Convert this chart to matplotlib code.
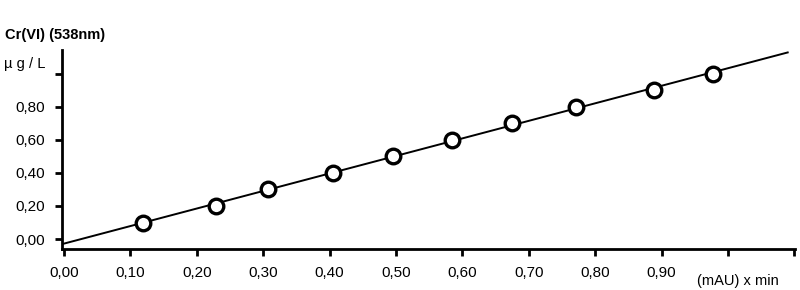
import numpy as np
import matplotlib
matplotlib.use("Agg")
import matplotlib.pyplot as plt

plt.rcParams['font.family'] = ['Liberation Sans', 'DejaVu Sans']

# Data
area = [0.119, 0.229, 0.307, 0.405, 0.495, 0.584, 0.675, 0.771, 0.889, 0.977]
conc = [0.10, 0.20, 0.30, 0.40, 0.50, 0.60, 0.70, 0.80, 0.90, 1.00]
xticks = [0.0, 0.1, 0.2, 0.3, 0.4, 0.5, 0.6, 0.7, 0.8, 0.9, 1.0, 1.1]
xticklabels = ["0,00", "0,10", "0,20", "0,30", "0,40", "0,50", "0,60", "0,70", "0,80", "0,90", "", ""]
yticks = [0.0, 0.2, 0.4, 0.6, 0.8, 1.0]
yticklabels = ["0,00", "0,20", "0,40", "0,60", "0,80", ""]

fig = plt.figure(figsize=(8, 2.9), dpi=100)
ax = fig.add_axes([62/800, 41/290, (795-62)/800, (249-50)/290])

slope, intercept = np.polyfit(area, conc, 1)
xl = np.array([-0.003, 1.09])
ax.plot(xl, slope*xl + intercept, color='black', lw=1.4, zorder=2)
ax.plot(area, conc, 'o', ms=10.5, mfc='white', mec='black', mew=2.4, zorder=3)

ax.set_xlim(-0.003, 1.101)
ax.set_ylim(-0.06, 1.142)
ax.set_xticks(xticks)
ax.set_xticklabels(xticklabels)
ax.set_yticks(yticks)
ax.set_yticklabels(yticklabels)
for s in ['top', 'right']:
    ax.spines[s].set_visible(False)
for s in ['left', 'bottom']:
    ax.spines[s].set_linewidth(2)
ax.tick_params(direction='out', length=5, width=2, labelsize=11, pad=7)

fig.text(5/800, 1 - 35/290, "Cr(VI) (538nm)", fontsize=10.5, fontweight='bold', va='center', ha='left')
fig.text(45/800, 1 - 64/290, "µ g / L", fontsize=10.5, va='center', ha='right')
fig.text(738/800, 1 - 281/290, "(mAU) x min", fontsize=10.5, va='center', ha='center')

fig.savefig("out.png", dpi=100)
